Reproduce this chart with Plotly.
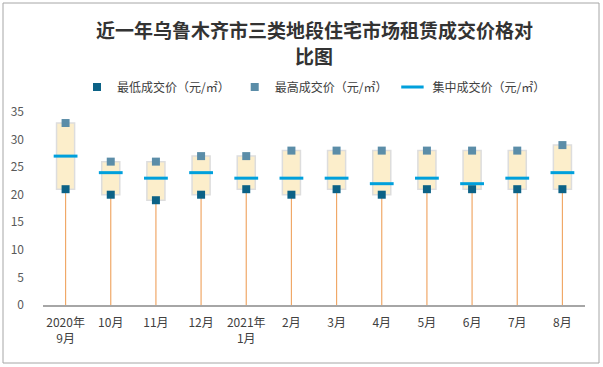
import plotly.graph_objects as go

categories = ["2020年<br>9月", "10月", "11月", "12月", "2021年<br>1月", "2月", "3月", "4月", "5月", "6月", "7月", "8月"]
low_price = [21, 20, 19, 20, 21, 20, 21, 20, 21, 21, 21, 21]
high_price = [33, 26, 26, 27, 27, 28, 28, 28, 28, 28, 28, 29]
mid_price = [27, 24, 23, 24, 23, 23, 23, 22, 23, 22, 23, 24]
y_ticks = [0, 5, 10, 15, 20, 25, 30, 35]
title_lines = ["近一年乌鲁木齐市三类地段住宅市场租赁成交价格对", "比图"]

x_idx = list(range(len(categories)))
ML, MR, MT, MB = 43, 18, 112, 62
W, H = 603, 367
PW, PH = W - ML - MR, H - MT - MB


def px_x(p):
    return (p - ML) / PW


def px_y(p):
    return (H - MB - p) / PH


fig = go.Figure()

# range box
fig.add_trace(go.Bar(
    x=x_idx, y=[h - l for h, l in zip(high_price, low_price)], base=low_price,
    width=0.4, marker=dict(color="#FCEECB", line=dict(color="#DDDDDD", width=1.5)),
    showlegend=False, hoverinfo="skip"))

# min marker with drop line to 0
fig.add_trace(go.Scatter(
    x=x_idx, y=low_price, mode="markers", name="最低成交价（元/㎡）",
    marker=dict(symbol="square", size=8, color="#0C6286"),
    error_y=dict(type="data", symmetric=False, array=[0] * len(low_price),
                 arrayminus=low_price, color="#F0A868", thickness=1.2, width=0)))

fig.add_trace(go.Scatter(
    x=x_idx, y=high_price, mode="markers", name="最高成交价（元/㎡）",
    marker=dict(symbol="square", size=8, color="#5B8DA8")))

fig.add_trace(go.Scatter(
    x=x_idx, y=mid_price, mode="markers", name="集中成交价（元/㎡）",
    marker=dict(symbol="line-ew", size=17, line=dict(color="#00A0DC", width=3))))

annotations = []
# title as two lines
for txt, ypx in zip(title_lines, [29, 55]):
    annotations.append(dict(x=0.5, xref="paper", y=px_y(ypx), yref="paper",
                            text="<b>" + txt + "</b>", showarrow=False,
                            xanchor="center", yanchor="middle",
                            font=dict(size=19, color="#333333", family="Noto Sans CJK SC")))

# outer border
fig.add_shape(type="rect", xref="paper", yref="paper",
              x0=px_x(3), x1=px_x(599), y0=px_y(363), y1=px_y(3),
              line=dict(color="#A6A6A6", width=1), layer="below")

fig.update_layout(
    width=W, height=H,
    margin=dict(l=ML, r=MR, t=MT, b=MB),
    paper_bgcolor="white", plot_bgcolor="white",
    font=dict(family="Noto Sans CJK SC, sans-serif", size=12, color="#404040"),
    annotations=annotations,
    legend=dict(orientation="h", x=0.5, xanchor="center", y=1.0 + (MT - 87) / PH,
                yanchor="middle", font=dict(size=12, color="#404040"),
                itemwidth=30, tracegroupgap=0),
    xaxis=dict(tickmode="array", tickvals=x_idx, ticktext=categories,
               range=[-0.5, len(categories) - 0.5], showgrid=False,
               showline=True, linecolor="#A6A6A6", linewidth=1.5, ticks="",
               tickfont=dict(size=12, color="#404040"), zeroline=False,
               ticklabelstandoff=6),
    yaxis=dict(range=[0, 35], tickvals=y_ticks, showgrid=False, showline=False,
               zeroline=False, ticks="", tickfont=dict(size=12, color="#595959"),
               ticklabelstandoff=18),
    bargap=0.6,
)

fig.write_html("out.html", config={"displayModeBar": False},
               post_script="document.body.style.margin='0';")
